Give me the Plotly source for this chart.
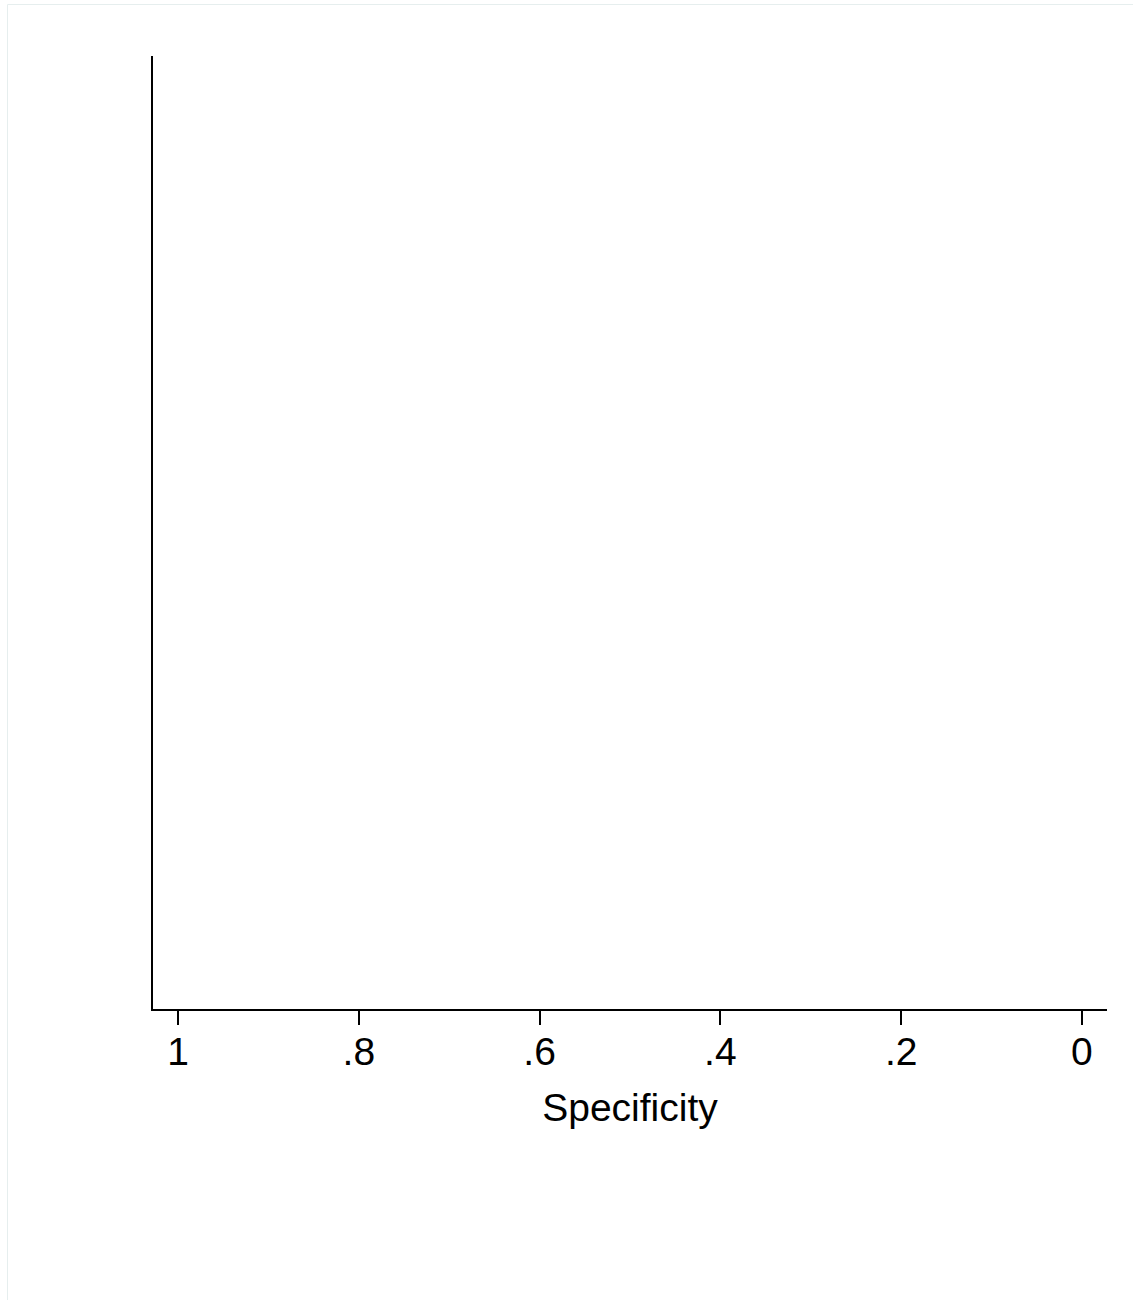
import plotly.graph_objects as go

# Data (the reference chart contains no plotted marks)
x_tick_values = [1, 0.8, 0.6, 0.4, 0.2, 0]
x_tick_labels = ["1", ".8", ".6", ".4", ".2", "0"]
x_title = "Specificity"
x_range = [1.0277, -0.0277]
y_range = [0, 1]

W, H = 1133, 1300
L, R, T, B = 153, 1107, 56, 1009

fig = go.Figure()
fig.add_trace(go.Scatter(x=[], y=[], mode="lines", showlegend=False))

font_family = "Liberation Sans, Arial, Helvetica, sans-serif"
FS = 39

fig.update_layout(
    width=W, height=H,
    margin=dict(l=L, r=W - R, t=T, b=H - B, pad=0),
    paper_bgcolor="white", plot_bgcolor="white",
    font=dict(family=font_family, size=FS, color="black"),
    showlegend=False,
    xaxis=dict(
        range=x_range, tickmode="array", tickvals=x_tick_values, ticktext=x_tick_labels,
        showline=True, linecolor="black", linewidth=2,
        ticks="outside", ticklen=14, tickwidth=2, tickcolor="black",
        ticklabelstandoff=-7,
        showgrid=False, zeroline=False,
        tickfont=dict(family=font_family, size=FS, color="black"),
        title=dict(text=x_title, font=dict(family=font_family, size=FS, color="black"), standoff=22),
        fixedrange=True,
    ),
    yaxis=dict(
        range=y_range, showline=True, linecolor="black", linewidth=2,
        ticks="", showticklabels=False, showgrid=False, zeroline=False,
        fixedrange=True,
    ),
    shapes=[dict(
        type="rect", xref="paper", yref="paper",
        x0=(7.5 - L) / (R - L), x1=(W + 5 - L) / (R - L),
        y0=(B - (H + 5)) / (B - T), y1=(B - 4.5) / (B - T),
        line=dict(color="#e6eeee", width=1), fillcolor="rgba(0,0,0,0)", layer="below",
    )],
)

fig.write_html(
    "out.html",
    config={"displayModeBar": False},
    post_script="document.body.style.margin='0';",
)
